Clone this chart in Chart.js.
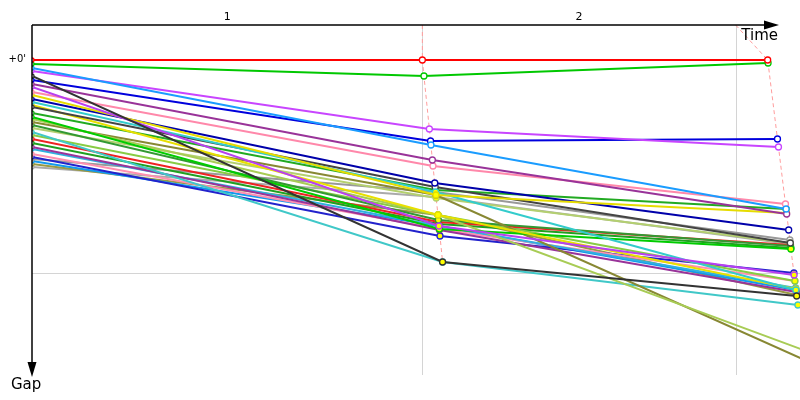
<!DOCTYPE html>
<html>
<head>
<meta charset="utf-8">
<script src="https://cdn.jsdelivr.net/npm/chart.js@4.4.1/dist/chart.umd.min.js"></script>
<style>
  body { margin: 0; background: #fff; }
  #wrap { width: 800px; height: 400px; }
</style>
</head>
<body>
<div id="wrap"><canvas id="GapChart" width="800" height="400"></canvas></div>
<script>
// lap labels and the lap reference times (vertical grid)
var lapLabels = ['1', '2'];
var lapRefTime = [195, 351.5];
var gapGrid = [21.3];

// one entry per driver
var driverColors = [
  '#ff0000', '#00c800', '#1a9cff', '#c845ff', '#333333', '#0000dd', '#993399', '#b840f0',
  '#ff88aa', '#e6dc00', '#0000aa', '#33cccc', '#444444', '#e8e000', '#22aa22', '#00cc00',
  '#a8cc55', '#888833', '#339933', '#b4d070', '#40c8c8', '#88cc44', '#ee2222', '#20a020',
  '#993399', '#30b0e0', '#ff90b0', '#2222cc', '#999999', '#1199ee', '#999944', '#aaaaaa'
];
var startGap = [
  0, 0.4, 0.8, 1.1, 1.6, 2.0, 2.4, 2.7, 3.2, 3.5, 3.9, 4.2, 4.7, 4.5, 5.3, 5.7,
  5.9, 6.2, 6.5, 6.8, 7.2, 7.5, 7.9, 8.3, 8.7, 8.9, 9.4, 9.7, 9.9, 10.1, 10.4, 10.7
];
var lap1Time = [
  195.0, 195.8, 199.3, 198.5, 205.1, 199.1, 200.0, 203.3, 200.3, 201.8, 201.2, 201.6, 201.4, 202.8, 201.5, 203.5,
  202.8, 201.8, 203.0, 201.9, 205.1, 202.8, 203.1, 203.2, 203.5, 203.3, 203.5, 203.8, 201.6, 203.3, 202.8, 201.9
];
var lap1Gap = [
  0, 1.6, 8.5, 6.9, 20.2, 8.1, 10.0, 16.6, 10.6, 13.5, 12.3, 13.2, 12.7, 15.5, 13.0, 16.9,
  15.5, 13.5, 16.0, 13.8, 20.2, 15.5, 16.2, 16.4, 17.0, 16.6, 16.9, 17.6, 13.2, 16.6, 15.5, 13.7
];
var lap2Time = [
  367.5, 367.7, 376.7, 372.9, 382.0, 372.4, 377.0, 380.7, 376.4, 376.9, 378.0, 381.6, 378.8, 381.6, 376.7, 379.1,
  385.3, 386.0, 378.9, 378.8, 382.6, 381.1, 378.9, 379.1, 381.8, 381.5, 381.1, 380.6, 378.6, 381.6, 382.0, 378.8
];
var lap2Gap = [
  0, 0.3, 14.9, 8.7, 23.6, 7.9, 15.4, 21.5, 14.4, 15.3, 17.0, 23.0, 18.3, 22.9, 14.9, 18.9,
  29.0, 30.0, 18.6, 18.3, 24.5, 22.1, 18.5, 18.8, 23.2, 22.8, 22.1, 21.3, 18.0, 23.0, 23.5, 18.4
];
// 1 = yellow filled marker
var lap1Flag = [0,0,0,0,1,0,0,1,0,1,0,1,0,1,0,1, 1,1,1,1,1,1,1,1,1,1,1,1,1,1,1,1];
var lap2Flag = [0,0,0,0,1,0,0,1,0,0,0,1,0,1,0,1, 1,1,1,0,1,1,0,1,1,1,1,1,0,1,1,0];

// clip only on the left (at the gap axis), let lines run to the canvas edge
var clipLeft = { left: 0, top: false, right: false, bottom: false };

var datasets = [];
driverColors.forEach(function (c, i) {
  datasets.push({
    data: [
      { x: 0, y: startGap[i] },
      { x: lap1Time[i], y: lap1Gap[i] },
      { x: lap2Time[i], y: lap2Gap[i] }
    ],
    borderColor: c,
    borderWidth: 2,
    pointRadius: [2, 3, 3],
    pointBorderWidth: 1.3,
    pointBorderColor: c,
    pointBackgroundColor: ['#ffffff', lap1Flag[i] ? '#ffff00' : '#ffffff', lap2Flag[i] ? '#ffff00' : '#ffffff'],
    tension: 0,
    clip: clipLeft,
    order: i
  });
});

// dashed lap lines joining the markers, starting on the top axis
function lapLine(times, gaps, refTime) {
  var pts = times.map(function (t, i) { return { x: t, y: gaps[i] }; });
  pts.sort(function (a, b) { return a.y - b.y; });
  pts.unshift({ x: refTime, y: -3.5 });
  return {
    data: pts,
    borderColor: '#ff9c9c',
    borderWidth: 1,
    borderDash: [4, 3],
    pointRadius: 0,
    tension: 0,
    clip: clipLeft,
    order: 100
  };
}
datasets.push(lapLine(lap1Time, lap1Gap, lapRefTime[0]));
datasets.push(lapLine(lap2Time, lap2Gap, lapRefTime[1]));

var gridPlugin = {
  id: 'gapGrid',
  beforeDatasetsDraw: function (chart) {
    var ctx = chart.ctx, a = chart.chartArea;
    var xs = chart.scales.x, ys = chart.scales.y;
    ctx.save();
    ctx.strokeStyle = '#d4d4d4';
    ctx.lineWidth = 1;
    lapRefTime.forEach(function (t) {
      var px = Math.round(xs.getPixelForValue(t)) + 0.5;
      ctx.beginPath(); ctx.moveTo(px, a.top); ctx.lineTo(px, a.bottom); ctx.stroke();
    });
    gapGrid.forEach(function (g) {
      var py = Math.round(ys.getPixelForValue(g)) + 0.5;
      ctx.beginPath(); ctx.moveTo(a.left, py); ctx.lineTo(800, py); ctx.stroke();
    });
    ctx.restore();
  },
  afterDraw: function (chart) {
    var ctx = chart.ctx, a = chart.chartArea;
    var xs = chart.scales.x, ys = chart.scales.y;
    ctx.save();
    // cover anything drawn above the top axis
    ctx.fillStyle = '#fff';
    ctx.fillRect(0, 0, 800, a.top - 1);
    ctx.strokeStyle = '#000';
    ctx.fillStyle = '#000';
    ctx.lineWidth = 1.5;
    // top axis with arrow
    ctx.beginPath(); ctx.moveTo(a.left, a.top); ctx.lineTo(768, a.top); ctx.stroke();
    ctx.beginPath(); ctx.moveTo(779, a.top); ctx.lineTo(764, a.top - 4.5); ctx.lineTo(764, a.top + 4.5); ctx.closePath(); ctx.fill();
    // left axis with arrow
    ctx.beginPath(); ctx.moveTo(a.left, a.top); ctx.lineTo(a.left, 366); ctx.stroke();
    ctx.beginPath(); ctx.moveTo(a.left, 377); ctx.lineTo(a.left - 4.5, 362); ctx.lineTo(a.left + 4.5, 362); ctx.closePath(); ctx.fill();

    ctx.font = '15px "DejaVu Sans", sans-serif';
    ctx.textBaseline = 'middle';
    ctx.textAlign = 'right';
    ctx.fillText('Time', 778, 36);
    ctx.textAlign = 'left';
    ctx.fillText('Gap', 11, 385);

    ctx.font = '11px "DejaVu Sans", sans-serif';
    ctx.textAlign = 'center';
    var prev = 0;
    lapLabels.forEach(function (l, i) {
      var mid = (prev + lapRefTime[i]) / 2;
      ctx.fillText(l, xs.getPixelForValue(mid), 17);
      prev = lapRefTime[i];
    });
    ctx.font = '10px "DejaVu Sans", sans-serif';
    ctx.textAlign = 'right';
    ctx.fillText("+0'", 26, ys.getPixelForValue(0) - 1);
    ctx.restore();
  }
};

var ctx = document.getElementById('GapChart').getContext('2d');
var chart = new Chart(ctx, {
  type: 'line',
  data: { datasets: datasets },
  options: {
    responsive: false,
    animation: false,
    layout: { padding: { left: 32, top: 25, right: 0, bottom: 25 } },
    scales: {
      x: { type: 'linear', min: 0, max: 381, display: false },
      y: { type: 'linear', min: -3.5, max: 31.5, reverse: true, display: false }
    },
    plugins: {
      legend: { display: false },
      tooltip: { enabled: false }
    }
  },
  plugins: [gridPlugin]
});
</script>
</body>
</html>
